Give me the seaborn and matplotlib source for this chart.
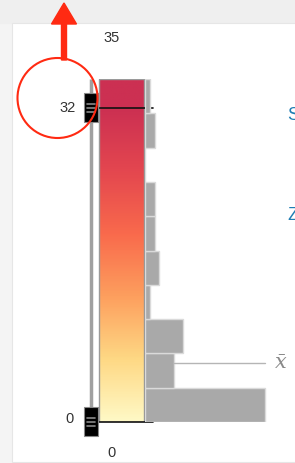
import numpy as np
import pandas as pd
import matplotlib
matplotlib.use("Agg")
import matplotlib.pyplot as plt
import seaborn as sns
from matplotlib.colors import LinearSegmentedColormap, Normalize
from matplotlib.patches import Rectangle, Circle, FancyArrow

sns.set_theme(style="white")
plt.rcParams['font.family'] = ['Liberation Sans', 'DejaVu Sans']

# --- data ---
bin_edges = [0, 3.5, 7, 10.5, 14, 17.5, 21, 24.5, 28, 31.5, 35]
bin_counts = [25, 6, 8, 1, 3, 2, 2, 0, 2, 1]
mean_value = 6.0
range_min, range_max = 0, 35
slider_low, slider_high = 0, 32
cmap_colors = ['#fff9c6', '#fed884', '#fd9f5e', '#f96a4c', '#e4474f', '#cc3052']

W, H = 295, 463
y_bottom, y_top = 422, 79      # pixel rows of value 0 and 35
px_per_count = 4.8

def rect(x0, y0, x1, y1):
    return [x0 / W, 1 - y1 / H, (x1 - x0) / W, (y1 - y0) / H]

fig = plt.figure(figsize=(W / 100, H / 100), dpi=100)
fig.patch.set_facecolor('#f4f4f4')

# background panel
bg = fig.add_axes([0, 0, 1, 1])
bg.set_xlim(0, W)
bg.set_ylim(H, 0)
bg.axis('off')
bg.add_patch(Rectangle((0, 0), W, 23, color='#efefef', zorder=0))
bg.add_patch(Rectangle((12, 23), W, 439, facecolor='white', edgecolor='#e6e6e6', lw=0.8, zorder=1))

# scale axes: x in pixels, y in data values
ax = fig.add_axes(rect(0, y_top, W, y_bottom))
ax.set_xlim(0, W)
ax.set_ylim(range_min, range_max)
ax.axis('off')
ax.patch.set_alpha(0)

cmap = LinearSegmentedColormap.from_list('ramp', cmap_colors)
grad = np.linspace(range_min, range_max, 400).reshape(-1, 1)
ax.imshow(grad, extent=[99, 144, range_min, range_max], origin='lower', aspect='auto',
          cmap=cmap, norm=Normalize(slider_low, slider_high), zorder=2)
ax.add_patch(Rectangle((99, range_min), 45, range_max - range_min, fill=False,
                       edgecolor='#9a9a9a', lw=1, zorder=3))

# slider track and handles
u = (range_max - range_min) / (y_bottom - y_top)   # value per pixel
ax.plot([90.5, 90.5], [range_min + 2 * u, range_max], color='#a0a0a0', lw=2.5,
        solid_capstyle='butt', zorder=2, clip_on=False)
for v in [slider_low, slider_high]:
    ax.plot([97, 153], [v, v], color='#111111', lw=1.2, zorder=5, clip_on=False)
    ax.add_patch(Rectangle((84, v - 14 * u), 13.5, 29 * u, facecolor='black',
                           edgecolor='#888888', lw=0.8, zorder=6, clip_on=False))
    for d in (-4, 0, 4):
        ax.plot([86.5, 94.5], [v + d * u, v + d * u], color='#8a8a8a', lw=1.2,
                zorder=7, clip_on=False)

ax.text(76, slider_high, str(slider_high), ha='right', va='center', fontsize=10.5,
        color='#333333', clip_on=False)
ax.text(74, slider_low + 3 * u, str(slider_low), ha='right', va='center', fontsize=10.5,
        color='#333333', clip_on=False)
ax.text(112, range_max + 41 * u, str(range_max), ha='center', va='center', fontsize=10.5,
        color='#333333', clip_on=False)
ax.text(112, range_min - 31 * u, str(range_min), ha='center', va='center', fontsize=10.5,
        color='#333333', clip_on=False)

# histogram
axh = fig.add_axes(rect(145, y_top, W, y_bottom))
axh.patch.set_alpha(0)
mids = [(a + b) / 2 for a, b in zip(bin_edges[:-1], bin_edges[1:])]
df = pd.DataFrame({'value': mids, 'count': bin_counts})
sns.histplot(data=df, y='value', weights='count', bins=bin_edges, ax=axh,
             color='#a9a9a9', edgecolor='#dadada', linewidth=1, alpha=1)
axh.set_xlim(0, (W - 145) / px_per_count)
axh.set_ylim(range_min, range_max)
axh.axis('off')

mean_bin = np.searchsorted(bin_edges, mean_value) - 1
axh.plot([bin_counts[mean_bin], max(bin_counts)], [mean_value, mean_value],
         color='#b5b5b5', lw=1)
axh.text(max(bin_counts) + 1.8, mean_value, r'$\bar{x}$', ha='left', va='center',
         fontsize=15, color='#8a8a8a', math_fontfamily='dejavuserif', clip_on=False)

# side labels (cut by the panel edge, as in the screenshot) and annotation
ov = fig.add_axes([0, 0, 1, 1])
ov.set_xlim(0, W)
ov.set_ylim(H, 0)
ov.axis('off')
ov.patch.set_alpha(0)
ov.text(287, 115, 'S', color='#1f7db3', fontsize=13, va='center', ha='left')
ov.text(287, 215, 'Z', color='#1f7db3', fontsize=13, va='center', ha='left')
ov.add_patch(Circle((57.5, 98), 40, fill=False, edgecolor='#ff2a12', lw=1.5, zorder=8))
ov.add_patch(FancyArrow(64, 60, 0, -57, width=5, head_width=25, head_length=21,
                        length_includes_head=True, color='#ff2a12', zorder=8))

fig.savefig('out.png', dpi=100, facecolor=fig.get_facecolor())
